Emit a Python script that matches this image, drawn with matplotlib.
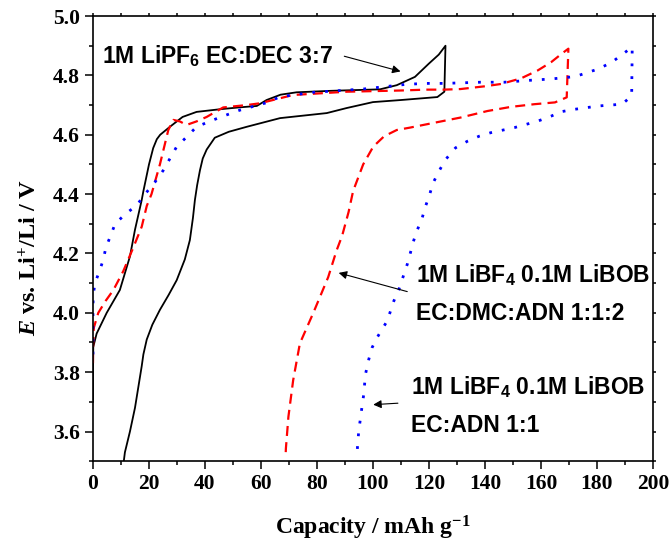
import matplotlib
matplotlib.use("Agg")
import matplotlib.pyplot as plt
from matplotlib.ticker import MultipleLocator, FormatStrFormatter

plt.rcParams['mathtext.fontset'] = 'custom'
plt.rcParams['mathtext.rm'] = 'Liberation Serif:bold'
plt.rcParams['mathtext.it'] = 'Liberation Serif:bold:italic'
plt.rcParams['mathtext.bf'] = 'Liberation Serif:bold'
plt.rcParams['mathtext.sf'] = 'Liberation Sans:bold'

# ---- data: LiPF6 EC:DEC 3:7 (black solid) ----
pf6_cap = [0, 0, 0.1, 1.3, 4.9, 9.6, 13.2, 15, 17.4, 18, 20, 21.5, 22.8, 24, 27.5, 32, 37,
           45.4, 52, 58.5, 62, 67, 72.7, 85, 102.5, 108.5, 115, 120, 123.5, 125.9,
           125.5, 123, 110, 100, 90.6, 83.5, 66.8, 55, 48.5, 43.5, 40.6, 39.2, 38.2, 37.2,
           36.4, 35.7, 34.6, 32.8, 29.9, 27, 23.9, 21.2, 19.2, 18, 17.4, 16.2, 15, 13.2,
           11.4, 11.0]
pf6_E = [3.70, 3.80, 3.885, 3.93, 4.0, 4.077, 4.19, 4.28, 4.38, 4.41, 4.50, 4.555, 4.585,
         4.60, 4.627, 4.66, 4.677, 4.686, 4.692, 4.697, 4.717, 4.735, 4.743, 4.748, 4.753,
         4.767, 4.795, 4.84, 4.87, 4.90,
         4.745, 4.727, 4.717, 4.71, 4.69, 4.673, 4.656, 4.627, 4.61, 4.59, 4.55, 4.52,
         4.48, 4.43, 4.38, 4.32, 4.245, 4.18, 4.11, 4.06, 4.01, 3.96, 3.91, 3.86, 3.82,
         3.75, 3.68, 3.60, 3.53, 3.50]

# ---- data: LiBF4 0.1M LiBOB EC:DMC:ADN 1:1:2 (red dashed) ----
dmc_cap = [0, 0, 0.3, 1.9, 4.5, 7.3, 10.8, 14.4, 17.4, 19.2, 20.9, 23.9, 26.9, 28.7, 31,
           33.4, 37, 40.6, 46.5, 54.9, 59.6, 71.5, 90.6, 109.6, 119, 125.3, 131.3, 139.7,
           145.7, 152.9, 158.9, 163.7, 167.4, 169.8,
           169.2, 165, 157.7, 149.3, 140.9, 131.3, 121.7, 113.2, 108.5, 104, 100.1, 96.5,
           92.9, 91.3, 89, 87, 84, 78.7, 73.9, 71.5, 69.8, 68.9, 68.8]
dmc_E = [3.83, 3.88, 3.95, 4.0, 4.04, 4.077, 4.14, 4.22, 4.29, 4.36, 4.40, 4.50, 4.616, 4.65,
         4.645, 4.633, 4.645, 4.66, 4.692, 4.70, 4.706, 4.734, 4.745, 4.749, 4.752, 4.752,
         4.754, 4.763, 4.771, 4.79, 4.817, 4.845, 4.873, 4.89,
         4.726, 4.709, 4.703, 4.694, 4.68, 4.658, 4.64, 4.624, 4.616, 4.595, 4.56, 4.50,
         4.41, 4.34, 4.26, 4.21, 4.12, 4.0, 3.897, 3.773, 3.65, 3.543, 3.52]

# ---- data: LiBF4 0.1M LiBOB EC:ADN 1:1 (blue dotted) ----
adn_cap = [0, 0, 0, 0.1, 0.7, 2.3, 3.7, 4.6, 6.3, 7.9, 11.6, 15.6, 18.6, 22.1, 25.1, 27.5,
           29.9, 33.5, 37, 45.4, 52.5, 62, 66.8, 78.7, 96.5, 112, 119, 125.3, 138.5, 146.9,
           155.3, 163.7, 172.2, 180.6, 185.4, 189, 192.6,
           192.4, 189, 180.6, 172.2, 167.4, 163.7, 158.9, 150.5, 142.1, 137.9, 133.7, 129.5,
           125.9, 123.5, 121.4, 120.2, 118.7, 117.5, 115.6, 114.6, 112.3, 109.3, 107.5,
           105.1, 101.5, 99.7, 98.5, 97.3, 96.7, 96.1, 94.9, 94.3]
adn_E = [3.86, 3.94, 4.02, 4.06, 4.10, 4.14, 4.18, 4.22, 4.26, 4.30, 4.333, 4.362, 4.40,
         4.44, 4.48, 4.52, 4.56, 4.593, 4.627, 4.659, 4.683, 4.708, 4.728, 4.743, 4.754,
         4.77, 4.773, 4.773, 4.777, 4.777, 4.783, 4.788, 4.796, 4.822, 4.845, 4.87, 4.896,
         4.731, 4.703, 4.697, 4.686, 4.678, 4.663, 4.646, 4.624, 4.607, 4.595, 4.578, 4.556,
         4.516, 4.476, 4.436, 4.397, 4.357, 4.317, 4.274, 4.245, 4.165, 4.08, 4.041,
         3.973, 3.917, 3.883, 3.843, 3.792, 3.725, 3.685, 3.60, 3.527]

y_ticks = [3.6, 3.8, 4.0, 4.2, 4.4, 4.6, 4.8, 5.0]

label_pf6 = "1M LiPF$_\\mathsf{6}$ EC:DEC 3:7"
label_dmc = "1M LiBF$_\\mathsf{4}$ 0.1M LiBOB\n\nEC:DMC:ADN 1:1:2"
label_adn = "1M LiBF$_\\mathsf{4}$ 0.1M LiBOB\n\nEC:ADN 1:1"

fig = plt.figure(figsize=(6.69, 5.53), dpi=100)
ax = fig.add_axes([0.139, 0.166, 0.837, 0.805])

ax.plot(pf6_cap, pf6_E, color='black', lw=1.3)
ax.plot(dmc_cap, dmc_E, color='#ff0000', lw=1.6, dashes=(4.5, 2.8))
ax.plot(adn_cap, adn_E, color='#0000ff', lw=2.0, dashes=(1, 3.6))

ax.set_xlim(0, 200)
ax.set_ylim(3.5, 5.0)
ax.xaxis.set_major_locator(MultipleLocator(20))
ax.xaxis.set_minor_locator(MultipleLocator(10))
ax.yaxis.set_minor_locator(MultipleLocator(0.1))
ax.set_yticks(y_ticks)
ax.yaxis.set_major_formatter(FormatStrFormatter('%.1f'))
ax.tick_params(axis='both', which='major', direction='out', length=6, width=1.1,
               labelsize=15.5)
ax.tick_params(axis='both', which='minor', direction='out', length=3, width=1.1)
ax.tick_params(axis='x', which='both', top=True, labeltop=False)
ax.tick_params(axis='y', which='both', right=True, labelright=False)
for lab in ax.get_xticklabels() + ax.get_yticklabels():
    lab.set_fontfamily('Liberation Serif')
    lab.set_fontweight('bold')
for t in ax.xaxis.get_major_ticks() + ax.xaxis.get_minor_ticks():
    t.tick2line.set_markersize(2)
for t in ax.yaxis.get_major_ticks() + ax.yaxis.get_minor_ticks():
    t.tick2line.set_markersize(2)
for s in ax.spines.values():
    s.set_linewidth(1.2)

ax.set_xlabel("Capacity / mAh g$^{-1}$", fontsize=17, fontfamily='Liberation Serif',
              fontweight='bold', labelpad=14)
ax.set_ylabel("$\\mathit{E}$ vs. Li$^{+}$/Li / V", fontsize=17.5,
              fontfamily='Liberation Serif', fontweight='bold')
ax.yaxis.set_label_coords(-0.093, 0.458)

arrow = dict(arrowstyle='-|>', color='black', lw=0.8, mutation_scale=12)
ax.text(3.1, 4.865, label_pf6, fontsize=16.5, fontfamily='Liberation Sans',
        fontweight='bold', va='center', ha='left')
ax.annotate('', xy=(110.8, 4.811), xytext=(88.8, 4.867), arrowprops=arrow)

ax.text(115.3, 4.063, label_dmc, fontsize=16.5, fontfamily='Liberation Sans',
        fontweight='bold', va='center', ha='left', linespacing=0.75)
ax.annotate('', xy=(86.8, 4.137), xytext=(113.2, 4.069), arrowprops=arrow)

ax.text(113.5, 3.688, label_adn, fontsize=16.5, fontfamily='Liberation Sans',
        fontweight='bold', va='center', ha='left', linespacing=0.75)
ax.annotate('', xy=(99.1, 3.69), xytext=(109.9, 3.696), arrowprops=arrow)

fig.savefig('out.png', dpi=100)
